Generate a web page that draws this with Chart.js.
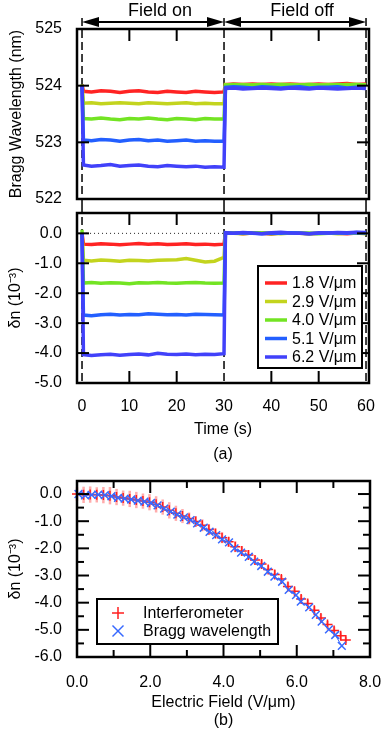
<!DOCTYPE html>
<html>
<head>
<meta charset="utf-8">
<script src="https://cdn.jsdelivr.net/npm/chart.js@4.4.0/dist/chart.umd.min.js"></script>
<style>
html, body { margin: 0; padding: 0; background: #fff; }
#wrap { position: relative; width: 382px; height: 733px; overflow: hidden; }
canvas { position: absolute; left: 0; }
</style>
</head>
<body>
<div id="wrap">
  <canvas id="bragg-chart" width="382" height="205" style="top:0"></canvas>
  <canvas id="dn-chart" width="382" height="265" style="top:205px"></canvas>
  <canvas id="field-chart" width="382" height="263" style="top:470px"></canvas>
</div>
<script>
// ---- (a) time traces ----
const timeS = [0, 0.3, 2, 4, 6, 8, 10, 12, 14, 16, 18, 20, 22, 24, 26, 28, 30,
               30.3, 32, 34, 36, 38, 40, 42, 44, 46, 48, 50, 52, 54, 56, 58, 60];
const switchTimes = [0, 30, 60];
const phaseLabels = ['Field on', 'Field off'];
const fieldLabels = ['1.8 V/μm', '2.9 V/μm', '4.0 V/μm', '5.1 V/μm', '6.2 V/μm'];

// Bragg wavelength (nm)
const bragg18 = [524.02, 523.90, 523.89, 523.91, 523.90, 523.88, 523.90, 523.91, 523.89, 523.88, 523.90, 523.89, 523.88, 523.90, 523.89, 523.88, 523.89,
                 524.02, 524.03, 524.02, 524.03, 524.02, 524.03, 524.02, 524.03, 524.02, 524.02, 524.03, 524.02, 524.03, 524.04, 524.02, 524.03];
const bragg29 = [524.01, 523.69, 523.70, 523.68, 523.69, 523.70, 523.69, 523.68, 523.70, 523.69, 523.68, 523.69, 523.70, 523.68, 523.69, 523.68, 523.68,
                 524.02, 524.01, 524.02, 524.01, 524.02, 524.01, 524.02, 524.02, 524.01, 524.02, 524.01, 524.02, 524.01, 524.02, 524.02, 524.01];
const bragg40 = [524.02, 523.42, 523.41, 523.43, 523.41, 523.40, 523.42, 523.41, 523.43, 523.41, 523.40, 523.42, 523.41, 523.40, 523.42, 523.41, 523.41,
                 524.01, 524.02, 524.01, 524.01, 524.02, 524.01, 524.02, 524.01, 524.01, 524.02, 524.01, 524.01, 524.02, 524.01, 524.02, 524.01];
const bragg51 = [524.00, 523.04, 523.03, 523.05, 523.04, 523.02, 523.04, 523.05, 523.03, 523.04, 523.02, 523.03, 523.04, 523.02, 523.03, 523.02, 523.02,
                 523.97, 523.98, 523.97, 523.96, 523.98, 523.97, 523.96, 523.97, 523.98, 523.96, 523.97, 523.97, 523.98, 523.96, 523.97, 523.98];
const bragg62 = [524.00, 522.60, 522.58, 522.59, 522.61, 522.58, 522.59, 522.60, 522.58, 522.57, 522.59, 522.58, 522.57, 522.58, 522.56, 522.57, 522.56,
                 523.95, 523.96, 523.94, 523.95, 523.96, 523.95, 523.94, 523.96, 523.95, 523.94, 523.96, 523.95, 523.94, 523.95, 523.96, 523.95];

// index change (10^-3)
const dn18 = [0.00, -0.36, -0.37, -0.35, -0.36, -0.38, -0.36, -0.34, -0.36, -0.35, -0.37, -0.36, -0.35, -0.37, -0.36, -0.38, -0.36,
              0.00, 0.02, -0.01, 0.01, 0.00, -0.02, 0.01, 0.00, 0.01, -0.01, 0.00, 0.02, 0.00, -0.01, 0.01, 0.00];
const dn29 = [0.00, -0.90, -0.92, -0.89, -0.91, -0.93, -0.90, -0.91, -0.92, -0.90, -0.89, -0.88, -0.84, -0.90, -0.96, -0.93, -0.80,
              0.01, 0.00, -0.01, 0.01, 0.02, 0.00, -0.01, 0.01, 0.00, -0.02, 0.00, 0.01, -0.01, 0.00, 0.01, -0.01];
const dn40 = [0.12, -1.66, -1.64, -1.67, -1.65, -1.66, -1.68, -1.65, -1.66, -1.64, -1.66, -1.67, -1.65, -1.64, -1.66, -1.67, -1.66,
              0.02, 0.01, 0.00, 0.02, 0.01, -0.01, 0.01, 0.02, 0.00, 0.01, -0.01, 0.00, 0.01, 0.02, 0.00, 0.01];
const dn51 = [0.00, -2.73, -2.75, -2.72, -2.70, -2.73, -2.71, -2.72, -2.69, -2.70, -2.72, -2.71, -2.73, -2.70, -2.71, -2.72, -2.73,
              0.01, 0.00, 0.02, 0.00, -0.01, 0.01, 0.00, 0.02, 0.01, -0.01, 0.00, 0.02, 0.01, 0.00, 0.03, 0.01];
const dn62 = [0.00, -4.05, -4.08, -4.06, -4.04, -4.07, -4.05, -4.03, -4.06, -4.01, -4.04, -4.05, -4.03, -4.06, -4.04, -4.05, -4.02,
              0.02, 0.00, 0.03, 0.01, -0.01, 0.02, 0.04, 0.01, 0.00, -0.01, 0.02, 0.01, 0.03, 0.02, 0.04, 0.03];

const braggTicks = [522, 523, 524, 525];
const dnTicks = [-5, -4, -3, -2, -1, 0];
const timeTicks = [0, 10, 20, 30, 40, 50, 60];

// ---- (b) index change vs field ----
const fieldInterf = [0.00, 0.18, 0.36, 0.54, 0.72, 0.90, 1.08, 1.26, 1.44, 1.62, 1.80, 1.98, 2.16, 2.34, 2.52, 2.70, 2.88,
                     3.06, 3.24, 3.42, 3.60, 3.78, 3.96, 4.14, 4.32, 4.50, 4.68, 4.86, 5.04, 5.22, 5.40, 5.58, 5.76,
                     5.94, 6.12, 6.30, 6.48, 6.66, 6.84, 7.02, 7.20, 7.34];
const dnInterf = [0.00, -0.03, -0.02, -0.03, -0.04, -0.06, -0.11, -0.15, -0.18, -0.22, -0.26, -0.30, -0.38, -0.48, -0.60, -0.71, -0.81,
                  -0.90, -1.01, -1.15, -1.31, -1.45, -1.61, -1.76, -1.94, -2.10, -2.24, -2.43, -2.58, -2.78, -2.96, -3.13, -3.40,
                  -3.58, -3.86, -4.03, -4.28, -4.56, -4.80, -5.02, -5.22, -5.37];
const errInterf = [0.25, 0.30, 0.30, 0.28, 0.30, 0.32, 0.30, 0.28, 0.30, 0.30, 0.28, 0.30, 0.30, 0.28, 0.30, 0.28, 0.26,
                   0.22, 0.20, 0.22, 0.20, 0.18, 0.20, 0.18, 0.20, 0.18, 0.18, 0.17, 0.16, 0.15, 0.16, 0.15, 0.15,
                   0.14, 0.15, 0.14, 0.15, 0.14, 0.13, 0.14, 0.13, 0.12];
const fieldBragg = [0.04, 0.22, 0.40, 0.58, 0.76, 0.94, 1.12, 1.30, 1.48, 1.66, 1.84, 2.02, 2.20, 2.38, 2.56, 2.74, 2.92,
                    3.10, 3.28, 3.46, 3.62, 3.80, 3.96, 4.15, 4.30, 4.48, 4.69, 4.84, 5.03, 5.21, 5.39, 5.60, 5.78,
                    5.98, 6.11, 6.34, 6.52, 6.68, 6.88, 7.05, 7.23];
const dnBragg = [0.00, -0.05, -0.03, -0.02, -0.04, -0.08, -0.14, -0.17, -0.20, -0.24, -0.28, -0.33, -0.42, -0.54, -0.65, -0.76, -0.86,
                 -0.96, -1.08, -1.24, -1.39, -1.51, -1.67, -1.78, -2.00, -2.16, -2.31, -2.49, -2.65, -2.86, -3.04, -3.23, -3.53,
                 -3.72, -3.96, -4.17, -4.45, -4.70, -4.98, -5.19, -5.59];
const fieldTicks = [0, 2, 4, 6, 8];
const fieldMinor = [1, 3, 5, 7];
const dnbTicks = [-6, -5, -4, -3, -2, -1, 0];
const dnbMinor = [-5.5, -4.5, -3.5, -2.5, -1.5, -0.5];

const FONT = '"Liberation Sans", Arial, Helvetica, sans-serif';
Chart.defaults.font.family = FONT;
Chart.defaults.font.size = 16;
Chart.defaults.color = '#000';
Chart.defaults.animation = false;

const traceColors = ['rgb(255,35,35)', 'rgb(195,212,30)', 'rgb(115,228,35)', 'rgb(35,95,255)', 'rgb(65,65,250)'];

function pts(xs, ys) {
    return xs.map((x, i) => ({ x: x, y: ys[i] }));
}

function traces(list) {
    return list.map((ys, i) => ({
        label: fieldLabels[i],
        data: pts(timeS, ys),
        showLine: true,
        borderColor: traceColors[i],
        borderWidth: 3.5,
        pointRadius: 0,
        tension: 0,
        order: list.length - i   // highest field drawn on top
    }));
}

// linear axis with fixed size and an explicit tick list
function axis(o) {
    return {
        type: 'linear',
        min: o.min,
        max: o.max,
        grid: { display: false },
        border: { display: false },
        afterBuildTicks: s => { s.ticks = (o.ticks || []).map(v => ({ value: v })); },
        afterFit: s => {
            if (s.isHorizontal()) s.height = o.size; else s.width = o.size;
            s.paddingLeft = s.paddingRight = s.paddingTop = s.paddingBottom = 0;
        },
        ticks: {
            display: o.showTicks !== false,
            padding: o.pad || 7,
            maxRotation: 0,
            autoSkip: false,
            callback: o.fmt
        },
        title: o.title ? { display: true, text: o.title, padding: o.titlePad, font: o.titleFont } : { display: false }
    };
}

const seg = (ctx, x1, y1, x2, y2) => { ctx.beginPath(); ctx.moveTo(x1, y1); ctx.lineTo(x2, y2); ctx.stroke(); };

// box frame with inward ticks
const framePlugin = {
    id: 'frame',
    afterDatasetsDraw(chart, args, o) {
        const { ctx, chartArea: a } = chart;
        const xs = chart.scales.x, ys = chart.scales.y;
        ctx.save();
        ctx.strokeStyle = '#000';
        ctx.lineWidth = 2;
        const xt = (vals, len) => (vals || []).forEach(v => {
            const p = xs.getPixelForValue(v);
            if (o.xTop) seg(ctx, p, a.top, p, a.top + len);
            if (o.xBottom) seg(ctx, p, a.bottom, p, a.bottom - len);
        });
        const yt = (vals, len) => (vals || []).forEach(v => {
            const p = ys.getPixelForValue(v);
            seg(ctx, a.left, p, a.left + len, p);
            seg(ctx, a.right, p, a.right - len, p);
        });
        xt(o.xMajor, 12); xt(o.xMinor, 7);
        yt(o.yMajor, 12); yt(o.yMinor, 7);
        ctx.lineWidth = 2.5;
        ctx.strokeRect(a.left, a.top, a.right - a.left, a.bottom - a.top);
        ctx.restore();
    }
};

// field on/off markers: dashed switch lines, arrows, zero line
const switchPlugin = {
    id: 'switch',
    beforeDatasetsDraw(chart, args, o) {
        const { ctx } = chart, x = chart.scales.x, y = chart.scales.y;
        const px = switchTimes.map(t => x.getPixelForValue(t));
        ctx.save();
        if (o.zeroLine) {
            ctx.setLineDash([1, 3]);
            ctx.lineWidth = 1;
            ctx.strokeStyle = '#222';
            const py = y.getPixelForValue(0);
            seg(ctx, px[0], py, px[1], py);
        }
        ctx.strokeStyle = '#000';
        ctx.lineWidth = 1.5;
        ctx.setLineDash([8, 4]);
        const bottom = o.toArea ? chart.chartArea.bottom : chart.height;
        px.forEach(p => seg(ctx, p, o.dashFrom, p, bottom));
        ctx.restore();
    },
    afterDraw(chart, args, o) {
        if (!o.arrows) return;
        const { ctx } = chart, x = chart.scales.x;
        const px = switchTimes.map(t => x.getPixelForValue(t));
        const ay = 22;
        ctx.save();
        ctx.strokeStyle = '#000';
        ctx.fillStyle = '#000';
        ctx.lineWidth = 2;
        phaseLabels.forEach((lab, i) => {
            const l = px[i], r = px[i + 1];
            seg(ctx, l + 10, ay, r - 10, ay);
            ctx.beginPath(); ctx.moveTo(l, ay); ctx.lineTo(l + 17, ay - 5); ctx.lineTo(l + 17, ay + 5); ctx.closePath(); ctx.fill();
            ctx.beginPath(); ctx.moveTo(r, ay); ctx.lineTo(r - 17, ay - 5); ctx.lineTo(r - 17, ay + 5); ctx.closePath(); ctx.fill();
            ctx.font = '18px ' + FONT;
            ctx.textAlign = 'center';
            ctx.textBaseline = 'alphabetic';
            ctx.fillText(lab, (l + r) / 2 + 7, 16);
        });
        ctx.restore();
    }
};

// legend drawn in a framed box inside the plot
const boxLegendPlugin = {
    id: 'boxLegend',
    afterDraw(chart, args, o) {
        const { ctx, chartArea: a } = chart;
        const L = a.left + o.left, T = a.top + o.top;
        ctx.save();
        ctx.fillStyle = '#fff';
        ctx.fillRect(L, T, o.width, o.height);
        ctx.strokeStyle = '#000';
        ctx.lineWidth = 2;
        ctx.strokeRect(L, T, o.width, o.height);
        ctx.font = '16px ' + FONT;
        ctx.textBaseline = 'middle';
        ctx.textAlign = 'left';
        chart.data.datasets.forEach((d, k) => {
            const cy = T + o.firstRow + k * o.rowGap;
            const cx = L + o.symX;
            ctx.strokeStyle = d.borderColor;
            if (d.pointStyle === 'cross') {
                ctx.lineWidth = 1.5;
                seg(ctx, cx - 6, cy, cx + 6, cy);
                seg(ctx, cx, cy - 6, cx, cy + 6);
            } else if (d.pointStyle === 'crossRot') {
                ctx.lineWidth = 1.5;
                seg(ctx, cx - 5.5, cy - 5.5, cx + 5.5, cy + 5.5);
                seg(ctx, cx - 5.5, cy + 5.5, cx + 5.5, cy - 5.5);
            } else {
                ctx.lineWidth = 3.5;
                seg(ctx, cx - 11, cy, cx + 11, cy);
            }
            ctx.fillStyle = '#000';
            ctx.fillText(d.label, L + o.textX, cy + 1);
        });
        ctx.restore();
    }
};

// vertical error bars of the interferometer points
const errorBarPlugin = {
    id: 'errorBars',
    beforeDatasetsDraw(chart) {
        const { ctx } = chart, x = chart.scales.x, y = chart.scales.y;
        ctx.save();
        ctx.strokeStyle = 'rgba(255,70,70,0.45)';
        ctx.lineWidth = 2.5;
        fieldInterf.forEach((e, i) => {
            const p = x.getPixelForValue(e);
            seg(ctx, p, y.getPixelForValue(dnInterf[i] - errInterf[i]), p, y.getPixelForValue(dnInterf[i] + errInterf[i]));
        });
        ctx.restore();
    }
};

const fmt1 = v => Number(v).toFixed(1);
const baseOpts = {
    responsive: false,
    devicePixelRatio: 1,
    animation: false
};

// top: Bragg wavelength vs time
new Chart(document.getElementById('bragg-chart'), {
    type: 'scatter',
    data: { datasets: traces([bragg18, bragg29, bragg40, bragg51, bragg62]) },
    options: Object.assign({}, baseOpts, {
        layout: { padding: { top: 29, right: 13, bottom: 6, left: 0 } },
        scales: {
            x: axis({ min: -1.06, max: 60.63, size: 0, showTicks: false }),
            y: axis({ min: 522, max: 525, size: 77, ticks: braggTicks, fmt: v => String(v),
                      title: 'Bragg Wavelength (nm)', titlePad: { top: 7 } })
        },
        plugins: {
            legend: { display: false },
            tooltip: { enabled: false },
            frame: { xTop: true, xBottom: false, xMajor: [10, 20, 40, 50], yMajor: [523, 524] },
            switch: { dashFrom: 18, toArea: false, arrows: true }
        }
    }),
    plugins: [switchPlugin, framePlugin]
});

// middle: index change vs time
new Chart(document.getElementById('dn-chart'), {
    type: 'scatter',
    data: { datasets: traces([dn18, dn29, dn40, dn51, dn62]) },
    options: Object.assign({}, baseOpts, {
        layout: { padding: { top: 8, right: 13, bottom: 0, left: 0 } },
        scales: {
            x: axis({ min: -1.06, max: 60.63, size: 87, ticks: timeTicks, pad: 6, fmt: v => String(v),
                      title: ['Time (s)', '(a)'], titlePad: { top: 0, bottom: 3 },
                      titleFont: { size: 16, lineHeight: 1.5625 } }),
            y: axis({ min: -5, max: 0.68, size: 77, ticks: dnTicks, fmt: fmt1,
                      title: 'δn (10⁻³)', titlePad: { top: 6 } })
        },
        plugins: {
            legend: { display: false },
            tooltip: { enabled: false },
            frame: { xTop: true, xBottom: true, xMajor: [10, 20, 40, 50], yMajor: [-4, -3, -2, -1, 0] },
            switch: { dashFrom: 0, toArea: true, zeroLine: true },
            boxLegend: { left: 181, top: 53, width: 104, height: 102, firstRow: 17, rowGap: 18.5, symX: 18, textX: 34 }
        }
    }),
    plugins: [switchPlugin, framePlugin, boxLegendPlugin]
});

// bottom: index change vs electric field
new Chart(document.getElementById('field-chart'), {
    type: 'scatter',
    data: {
        datasets: [{
            label: 'Interferometer',
            data: pts(fieldInterf, dnInterf),
            showLine: false,
            pointStyle: 'cross',
            pointRadius: 5,
            borderColor: 'rgb(255,30,30)',
            pointBorderColor: 'rgb(255,30,30)',
            pointBorderWidth: 1.5,
            clip: false,
            order: 2
        }, {
            label: 'Bragg wavelength',
            data: pts(fieldBragg, dnBragg),
            showLine: true,
            borderColor: 'rgb(55,105,255)',
            borderWidth: 1,
            pointStyle: 'crossRot',
            pointRadius: 5.5,
            pointBorderColor: 'rgb(55,105,255)',
            pointBorderWidth: 1.5,
            clip: false,
            order: 1
        }]
    },
    options: Object.assign({}, baseOpts, {
        layout: { padding: { top: 11, right: 12, bottom: 0, left: 0 } },
        scales: {
            x: axis({ min: 0, max: 8, size: 76, ticks: fieldTicks, pad: 8, fmt: fmt1,
                      title: ['Electric Field (V/μm)', '(b)'], titlePad: { top: 0, bottom: 3 },
                      titleFont: { size: 16, lineHeight: 1.125 } }),
            y: axis({ min: -6, max: 0.48, size: 77, ticks: dnbTicks, fmt: fmt1,
                      title: 'δn (10⁻³)', titlePad: { top: 6 } })
        },
        plugins: {
            legend: { display: false },
            tooltip: { enabled: false },
            frame: { xTop: true, xBottom: true, xMajor: fieldTicks, xMinor: fieldMinor, yMajor: dnbTicks, yMinor: dnbMinor },
            boxLegend: { left: 20, top: 118, width: 181, height: 45, firstRow: 14, rowGap: 18, symX: 21, textX: 46 }
        }
    }),
    plugins: [errorBarPlugin, framePlugin, boxLegendPlugin]
});
</script>
</body>
</html>
